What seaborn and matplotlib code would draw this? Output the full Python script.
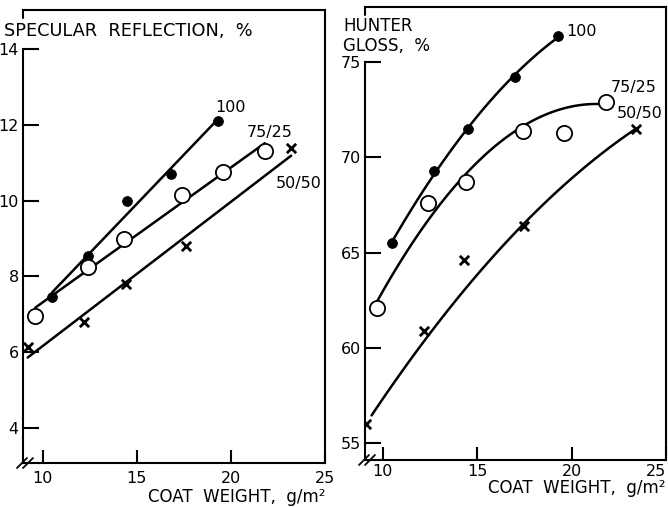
import matplotlib
matplotlib.use('Agg')
import matplotlib.pyplot as plt
import seaborn as sns
import pandas as pd

# Left panel: specular reflection, % vs coat weight
spec_100_x = [10.5, 12.4, 14.5, 16.8, 19.3]
spec_100_y = [7.45, 8.55, 10.0, 10.7, 12.1]
spec_7525_x = [9.6, 12.4, 14.3, 17.4, 19.6, 21.8]
spec_7525_y = [6.95, 8.25, 9.0, 10.15, 10.75, 11.3]
spec_5050_x = [9.2, 12.2, 14.4, 17.6, 23.2]
spec_5050_y = [6.15, 6.8, 7.8, 8.8, 11.4]

# Right panel: hunter gloss, % vs coat weight
gloss_100_x = [10.5, 12.7, 14.5, 17.0, 19.3]
gloss_100_y = [65.5, 69.3, 71.5, 74.2, 76.4]
gloss_7525_x = [9.7, 12.4, 14.4, 17.4, 19.6, 21.8]
gloss_7525_y = [62.1, 67.6, 68.7, 71.4, 71.3, 72.9]
gloss_5050_x = [9.1, 12.2, 14.3, 17.5, 23.4]
gloss_5050_y = [56.0, 60.9, 64.6, 66.4, 71.5]
gloss_7525_outlier = 4  # point left out of the fitted curve
# hand-drawn 50/50 gloss curve
gloss_5050_curve_x = [9.4, 12.3, 13.8, 15.5, 17.4, 19.8, 23.35]
gloss_5050_curve_y = [56.4, 60.6, 62.5, 64.2, 66.45, 68.8, 71.45]

x_ticks = [10, 15, 20, 25]
spec_ticks = [4, 6, 8, 10, 12, 14]
gloss_ticks = [55, 60, 65, 70, 75]

sns.set_style("ticks")
plt.rcParams['font.family'] = ['DejaVu Sans']
plt.rcParams['text.color'] = 'black'
plt.rcParams['axes.labelcolor'] = 'black'

fig = plt.figure(figsize=(6.68, 5.07), dpi=100)
ax1 = fig.add_axes([23 / 668, 1 - 463 / 507, 302 / 668, 453 / 507])
ax2 = fig.add_axes([365 / 668, 1 - 460 / 507, 301 / 668, 453 / 507])

line_kws = dict(color='black', lw=1.8, zorder=2)
FS = 11.5
TFS = 12


def fit_line(ax, x, y, order):
    df = pd.DataFrame({'x': x, 'y': y})
    sns.regplot(data=df, x='x', y='y', ax=ax, order=order, ci=None,
                scatter=False, truncate=True, line_kws=line_kws)


def draw_marks(ax, x, y, style):
    df = pd.DataFrame({'x': x, 'y': y})
    if style == 'dot':
        sns.scatterplot(data=df, x='x', y='y', ax=ax, marker='o', s=50,
                        color='black', edgecolor='black', zorder=3)
    elif style == 'circle':
        sns.scatterplot(data=df, x='x', y='y', ax=ax, marker='o', s=120,
                        facecolor='white', edgecolor='black', linewidth=1.3,
                        zorder=3)
    else:
        sns.scatterplot(data=df, x='x', y='y', ax=ax, marker='x', s=45,
                        color='black', linewidth=2, zorder=3)


fit_line(ax1, spec_100_x, spec_100_y, 1)
fit_line(ax1, spec_7525_x, spec_7525_y, 1)
fit_line(ax1, spec_5050_x, spec_5050_y, 1)
draw_marks(ax1, spec_100_x, spec_100_y, 'dot')
draw_marks(ax1, spec_7525_x, spec_7525_y, 'circle')
draw_marks(ax1, spec_5050_x, spec_5050_y, 'cross')

fit_line(ax2, gloss_100_x, gloss_100_y, 2)
fit_line(ax2, [v for i, v in enumerate(gloss_7525_x) if i != gloss_7525_outlier],
         [v for i, v in enumerate(gloss_7525_y) if i != gloss_7525_outlier], 2)
fit_line(ax2, gloss_5050_curve_x, gloss_5050_curve_y, 2)
draw_marks(ax2, gloss_100_x, gloss_100_y, 'dot')
draw_marks(ax2, gloss_7525_x, gloss_7525_y, 'circle')
draw_marks(ax2, gloss_5050_x, gloss_5050_y, 'cross')

ax1.set_xlim(8.95, 25)
ax1.set_ylim(3.08, 15.03)
ax2.set_xlim(9.05, 25.0)
ax2.set_ylim(54.1, 77.9)

for ax, yt, ylab_top, xpad in [(ax1, spec_ticks, 14, 5.5),
                               (ax2, gloss_ticks, 75, 3)]:
    ax.set_xticks(x_ticks)
    ax.set_yticks(yt)
    ax.set_xlabel('')
    ax.set_ylabel('')
    for s in ax.spines.values():
        s.set_linewidth(1.5)
        s.set_color('black')
        s.set_visible(True)
    ax.spines['left'].set_bounds(ax.get_ylim()[0], ylab_top)
    ax.tick_params(axis='y', direction='in', length=11.5, width=1.5,
                   labelsize=FS, pad=3, colors='black')
    ax.tick_params(axis='x', direction='in', length=9.5, width=1.5,
                   labelsize=FS, pad=xpad, colors='black')
    # short stub of the frame at the top-left corner
    ax.plot([0, 0], [1, 1 - 8 / 453], transform=ax.transAxes, color='black',
            lw=1.5, clip_on=False)
    # axis break marks at the origin
    for dx in [0, 6]:
        ax.plot([(-6 + dx) / 302, (4 + dx) / 302], [-5 / 453, 5 / 453],
                transform=ax.transAxes, color='black', lw=1.3, clip_on=False)

# last tick label on the right panel sits flush against the frame
ax2.get_xticklabels()[-1].set_horizontalalignment('right')

ax1.text(1.0, -0.075, 'COAT  WEIGHT,  g/m²', transform=ax1.transAxes,
         ha='right', va='center', fontsize=TFS)
ax2.text(1.0, -0.062, 'COAT  WEIGHT,  g/m²', transform=ax2.transAxes,
         ha='right', va='center', fontsize=TFS)

# axis titles
ax1.text(-19 / 302, 1 - 21 / 453, 'SPECULAR  REFLECTION,  %',
         transform=ax1.transAxes, ha='left', va='center', fontsize=12.8)
ax2.text(-22 / 301, 1 - 29 / 453, 'HUNTER\nGLOSS,  %', transform=ax2.transAxes,
         ha='left', va='center', fontsize=TFS, linespacing=1.15)

# series labels
ax1.text(20.0, 12.47, '100', ha='center', va='center', fontsize=FS)
ax1.text(22.05, 11.79, '75/25', ha='center', va='center', fontsize=FS)
ax1.text(23.6, 10.45, '50/50', ha='center', va='center', fontsize=FS)
ax2.text(20.5, 76.63, '100', ha='center', va='center', fontsize=FS)
ax2.text(23.3, 73.69, '75/25', ha='center', va='center', fontsize=FS)
ax2.text(23.6, 72.32, '50/50', ha='center', va='center', fontsize=FS)

fig.savefig('out.png', dpi=100, facecolor='white')
